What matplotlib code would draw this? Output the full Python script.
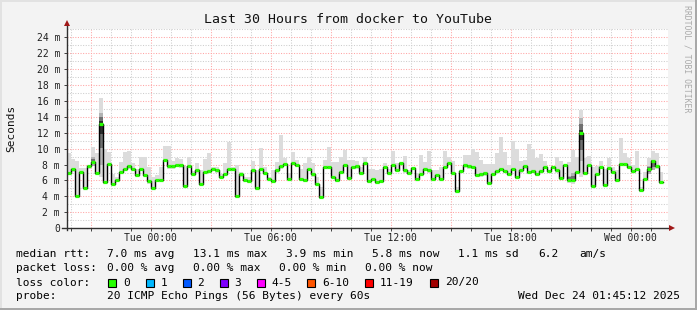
import numpy as np
import matplotlib
matplotlib.use("Agg")
import matplotlib.pyplot as plt
from matplotlib.patches import Rectangle

W, H = 697, 310

# median rtt (ms), one value per 12 minute step, Mon 19:49 .. Wed 01:45
median = [7.0, 7.4, 4.1, 7.05, 5.1, 7.8, 8.35, 6.95, 13.1, 5.8,
          8.05, 5.5, 6.0, 7.05, 7.5, 7.8, 7.5, 6.7, 7.5, 6.75,
          5.9, 5.0, 6.1, 6.1, 8.6, 7.8, 7.8, 8.0, 7.9, 5.3,
          7.85, 6.8, 7.3, 5.6, 7.05, 7.2, 7.5, 7.3, 6.5, 6.85,
          7.45, 7.45,
          4.05, 6.77, 6.1, 5.9, 7.3, 5.0, 7.44, 7.0, 6.2, 5.9,
          7.27, 7.77, 8.1, 6.2, 8.2, 8.0, 6.23, 6.06, 7.48, 6.77,
          5.56, 3.9, 7.7, 7.7, 6.48, 6.06, 7.06, 8.0, 6.27, 7.65,
          7.77, 6.94, 8.19, 5.94, 6.2, 5.77, 5.94, 7.7, 7.0,
          8.0, 7.35, 8.23, 7.27, 6.94, 7.6, 6.2, 6.8, 7.44, 7.3,
          6.15, 6.73, 6.2, 7.65, 8.19, 7.0, 4.65, 7.15, 7.94, 7.77,
          7.7, 6.69, 6.77, 6.9, 5.65, 6.8, 7.19, 7.48, 7.23, 6.85,
          7.44, 6.4, 7.3, 7.81, 7.1, 7.19, 6.8, 7.19, 7.73, 7.17,
          7.73, 7.27, 6.31, 7.94, 6.06, 6.06, 7.06, 11.9, 6.98, 8.0,
          5.31, 6.85, 7.65, 5.48, 7.52, 7.06, 6.02, 8.06, 8.06, 7.73,
          7.15, 7.48, 4.77, 6.23, 7.44, 8.4, 7.77, 5.81]

# smoke: slowest ping per step
smoke_hi = [9.45, 8.7, 8.45, 7.6, 7.6, 8.0, 10.2, 9.5, 16.4, 9.9,
            9.6, 6.8, 6.4, 8.35, 9.6, 9.7, 8.15, 7.5, 9.0, 9.0,
            7.7, 6.4, 6.7, 7.7, 10.35, 10.35, 8.45, 8.8, 8.65, 7.8,
            9.0, 7.2, 8.2, 7.3, 8.7, 9.5, 7.7, 7.65, 6.8, 8.15,
            10.85, 7.7,
            7.94, 7.1, 6.5, 6.5, 8.5, 7.3, 10.1, 7.65, 6.5, 7.3,
            8.3, 11.7, 8.8, 7.0, 9.55, 8.55, 7.5, 8.2, 9.0, 8.15,
            6.5, 5.2, 8.55, 10.2, 8.35, 8.35, 9.0, 9.8, 8.55, 8.55,
            8.5, 7.7, 9.0, 7.5, 7.4, 7.3, 7.45, 8.2, 7.5,
            9.7, 8.15, 8.35, 9.05, 7.3, 7.7, 6.9, 9.2, 8.35, 9.7,
            7.3, 7.3, 7.7, 9.7, 9.0, 8.45, 5.2, 7.3, 9.2, 9.2,
            10.0, 9.6, 8.55, 8.05, 8.05, 8.05, 9.5, 11.4, 9.6, 7.95,
            11.0, 10.0, 8.5, 8.55, 10.55, 10.0, 8.8, 9.3, 8.5, 7.3,
            7.8, 9.0, 8.5, 7.95, 8.35, 9.8, 9.0, 14.8, 8.8, 9.05,
            7.65, 7.8, 8.5, 7.5, 8.8, 7.65, 7.3, 11.3, 9.4, 8.8,
            7.95, 9.7, 5.2, 7.1, 8.8, 9.7, 9.4, 7.1]

# smoke: fastest ping per step
smoke_lo = [6.7, 7.1, 3.9, 6.8, 4.9, 7.5, 8.0, 6.7, 6.5, 5.6,
            7.8, 5.3, 5.8, 6.8, 7.2, 7.5, 7.2, 6.5, 7.2, 6.5,
            5.6, 4.8, 5.9, 5.9, 8.3, 7.5, 7.5, 7.7, 7.6, 5.1,
            7.6, 6.6, 7.0, 5.4, 6.8, 6.9, 7.2, 7.0, 6.3, 6.6,
            7.2, 7.2,
            3.8, 6.5, 5.9, 5.7, 7.0, 4.8, 7.2, 6.8, 6.0, 5.7,
            7.0, 7.5, 7.8, 6.0, 7.9, 7.7, 6.0, 5.8, 7.2, 6.5,
            5.3, 3.7, 7.4, 7.4, 6.2, 5.8, 6.8, 7.7, 6.0, 7.4,
            7.5, 6.7, 7.9, 5.7, 6.0, 5.5, 5.7, 7.4, 6.8,
            7.7, 7.1, 7.9, 7.0, 6.7, 7.3, 6.0, 6.6, 7.2, 7.0,
            5.9, 6.5, 6.0, 7.4, 7.9, 6.8, 4.4, 6.9, 7.6, 7.5,
            7.4, 6.4, 6.5, 6.6, 5.4, 6.6, 6.9, 7.2, 7.0, 6.6,
            7.2, 6.2, 7.0, 7.5, 6.8, 6.9, 6.6, 6.9, 7.5, 6.9,
            7.5, 7.0, 6.1, 7.7, 5.7, 5.6, 6.8, 6.5, 6.7, 7.7,
            5.1, 6.6, 7.4, 5.2, 7.3, 6.8, 5.8, 7.8, 7.8, 7.5,
            6.9, 7.2, 4.5, 6.0, 7.2, 7.4, 7.5, 5.6]

# steps where the inner pings are spread (darker smoke)
core_steps = [6, 8, 125, 126, 128, 145, 146]
core_lo = [7.8, 8.0, 6.0, 5.9, 8.5, 6.8, 7.3]
core_hi = [9.0, 14.5, 6.6, 6.9, 13.8, 7.8, 8.6]

time_labels = ["Tue 00:00", "Tue 06:00", "Tue 12:00", "Tue 18:00", "Wed 00:00"]
time_label_hours = [0, 6, 12, 18, 24]
y_ticks = list(range(0, 25, 2))
y_tick_labels = ["0"] + ["%d m" % v for v in range(2, 25, 2)]

loss_labels = ["0", "1", "2", "3", "4-5", "6-10", "11-19", "20/20"]
loss_colors = ["#26ff00", "#00b8ff", "#0059ff", "#7e00ff",
               "#ff00ff", "#ff5500", "#ff0000", "#a10000"]

rtt_items = ["7.0 ms avg", "13.1 ms max", "3.9 ms min", "5.8 ms now",
             "1.1 ms sd", "6.2", "am/s"]
loss_items = ["0.00 % avg", "0.00 % max", "0.00 % min", "0.00 % now"]

plt.rcParams['font.family'] = ['DejaVu Sans Mono']


def fx(px):
    return px / W


def fy(py):
    return 1 - py / H


fig = plt.figure(figsize=(W / 100, H / 100), dpi=100, facecolor="#f3f3f3")

# 3d style frame
fig.add_artist(Rectangle((0, 0), fx(2), 1, transform=fig.transFigure,
                         fc="#e2e2e2", lw=0))
fig.add_artist(Rectangle((0, fy(2)), 1, 2 / H, transform=fig.transFigure,
                         fc="#e2e2e2", lw=0))
fig.add_artist(Rectangle((fx(W - 2), 0), fx(2), 1, transform=fig.transFigure,
                         fc="#a8a8a8", lw=0))
fig.add_artist(Rectangle((0, 0), 1, 2 / H, transform=fig.transFigure,
                         fc="#a8a8a8", lw=0))

ax = fig.add_axes([fx(66.7), fy(228.3), 601 / W, (228.3 - 29.1) / H])
ax.set_facecolor("white")
x0, x1 = -4.19, 25.86
ax.set_xlim(x0, x1)
ax.set_ylim(0, 25)
for s in ax.spines.values():
    s.set_visible(False)

# grid
minor_c, major_c = "#cdcdcd", "#ffa4a4"
dots = (0, (1, 1.5))
for h in range(-4, 26):
    c = major_c if h % 3 == 0 else minor_c
    ax.axvline(h, color=c, lw=0.75, ls=dots, zorder=1)
for v in range(1, 26):
    c = major_c if v % 2 == 0 else minor_c
    ax.axhline(v, color=c, lw=0.75, ls=dots, zorder=1)

# data
step_h = 0.2
n = len(median)
t = -4.175 + step_h * np.arange(n)
med = np.array(median)
hi = np.array(smoke_hi)
lo = np.array(smoke_lo)

ax.bar(t, hi - lo, bottom=lo, width=step_h, align="edge",
       color="#dcdcdc", lw=0, zorder=2)
for i, a, b in zip(core_steps, core_lo, core_hi):
    ax.bar(t[i], b - a, bottom=a, width=step_h, align="edge",
           color="#b2b2b2", lw=0, zorder=2)
    ia = a + (med[i] - a) * 0.4
    ib = b - (b - med[i]) * 0.4
    ax.bar(t[i], ib - ia, bottom=ia, width=step_h, align="edge",
           color="#707070", lw=0, zorder=2)
    if b - a > 3:
        ia = a + (med[i] - a) * 0.75
        ib = b - (b - med[i]) * 0.75
        ax.bar(t[i], ib - ia, bottom=ia, width=step_h, align="edge",
               color="#2e2e2e", lw=0, zorder=2)

xs = np.append(t, t[-1] + step_h)
ys = np.append(med, med[-1])
ax.step(xs, ys, where="post", color="black", lw=1.0, zorder=4)
ax.hlines(med, t, t + step_h, colors="#26ff00", lw=2.3, zorder=5)

# axes with arrows
ax.plot([-4.43, 25.98], [0, 0], color="#303030", lw=1.0, clip_on=False, zorder=6)
ax.plot([x0, x0], [-0.25, 25.6], color="#303030", lw=1.0, clip_on=False, zorder=6)
ax.plot([x0], [25.75], marker="^", ms=5, color="#a01818", mew=0,
        clip_on=False, zorder=7)
ax.plot([26.05], [0], marker=">", ms=5, color="#a01818", mew=0,
        clip_on=False, zorder=7)

ax.set_xticks(time_label_hours, time_labels)
ax.set_xticks(range(-4, 26), minor=True)
ax.set_yticks(y_ticks, y_tick_labels)
ax.tick_params(axis="x", which="both", length=2, width=0.7, color="#404040",
               pad=1.5, labelsize=7, labelcolor="#202020")
ax.tick_params(axis="y", length=2, width=0.7, color="#404040",
               pad=2.8, labelsize=7, labelcolor="#202020")

# texts
fig.text(fx(348), fy(19.5), "Last 30 Hours from docker to YouTube",
         ha="center", va="center", fontsize=9.5, color="#111111")
fig.text(fx(11), fy(128), "Seconds", rotation=90, ha="center", va="center",
         fontsize=8, color="#111111")
fig.text(fx(687.5), fy(59), "RRDTOOL / TOBI OETIKER", rotation=270,
         ha="center", va="center", fontsize=5.9, color="#aaaaaa")

row1, row2, row3, row4 = 254, 268, 282.5, 296
fs = 8
fig.text(fx(16), fy(row1), "median rtt:", va="center", fontsize=fs)
for x, s in zip([107, 193, 286, 372, 458, 538, 579], rtt_items):
    fig.text(fx(x), fy(row1), s, va="center", fontsize=fs)

fig.text(fx(16), fy(row2), "packet loss:", va="center", fontsize=fs)
for x, s in zip([107, 193, 279, 365], loss_items):
    fig.text(fx(x), fy(row2), s, va="center", fontsize=fs)

fig.text(fx(16), fy(row3), "loss color:", va="center", fontsize=fs)
box_x = [108.3, 145.7, 182.7, 220, 256.7, 307.3, 365.3, 430]
for bx, lab, c in zip(box_x, loss_labels, loss_colors):
    fig.add_artist(Rectangle((fx(bx), fy(row3 + 4)), 8 / W, 8 / H,
                             transform=fig.transFigure, fc=c, ec="black", lw=0.8))
    fig.text(fx(bx + 14.7), fy(row3), lab, va="center", fontsize=fs)

fig.text(fx(16), fy(row4), "probe:", va="center", fontsize=fs)
fig.text(fx(107), fy(row4), "20 ICMP Echo Pings (56 Bytes) every 60s",
         va="center", fontsize=fs)
fig.text(fx(680), fy(row4), "Wed Dec 24 01:45:12 2025", ha="right",
         va="center", fontsize=fs)

fig.savefig("out.png", dpi=100, facecolor=fig.get_facecolor())
